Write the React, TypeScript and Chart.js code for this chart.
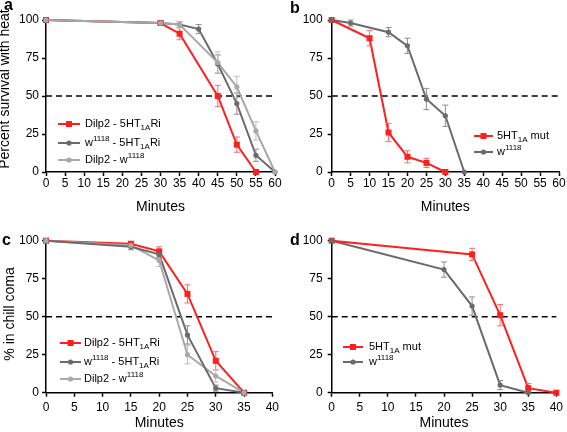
import React, { useEffect, useRef } from 'react';
import { Chart, registerables } from 'chart.js';
Chart.register(...registerables);

const FONT = "'Liberation Sans', Arial, sans-serif";
const RED = '#ff1f1f';
const RED_ERR = '#f27070';
const DARK = '#6b6b6b';
const DARK_ERR = '#8e8e8e';
const LIGHT = '#a9a9a9';
const LIGHT_ERR = '#bdbdbd';

// ---------- Panel a (heat) ----------
const aRedX = [0, 30, 35, 45, 50, 55];
const aRedY = [100, 98, 91, 50, 18, 0];
const aRedErr = [0, 1, 4, 7, 5, 0];
const aDarkX = [0, 30, 35, 40, 45, 50, 55, 60];
const aDarkY = [100, 98, 97, 94, 71, 45, 11, 0];
const aDarkErr = [0, 1, 2, 3, 6, 7, 4, 0];
const aLightX = [0, 30, 35, 45, 50, 55, 60];
const aLightY = [100, 98, 97, 72, 56, 27, 0];
const aLightErr = [0, 1, 2, 7, 7, 6, 0];

// ---------- Panel b (heat, mutant) ----------
const bRedX = [0, 10, 15, 20, 25, 30];
const bRedY = [100, 88, 26, 10, 6, 0];
const bRedErr = [0, 5, 6, 4, 3, 0];
const bDarkX = [0, 5, 15, 20, 25, 30, 35];
const bDarkY = [100, 98, 92, 83, 48, 37, 0];
const bDarkErr = [0, 2, 3, 5, 7, 7, 0];

// ---------- Panel c (chill) ----------
const cRedX = [0, 15, 20, 25, 30, 35];
const cRedY = [100, 98, 93, 65, 21, 0];
const cRedErr = [0, 1, 3, 6, 6, 0];
const cDarkX = [0, 15, 20, 25, 30, 35];
const cDarkY = [100, 96, 91, 38, 3, 0];
const cDarkErr = [0, 2, 2, 6, 2, 0];
const cLightX = [0, 15, 20, 25, 30, 35];
const cLightY = [100, 97, 87, 25, 11, 0];
const cLightErr = [0, 1, 4, 6, 4, 0];

// ---------- Panel d (chill, mutant) ----------
const dRedX = [0, 25, 30, 35, 40];
const dRedY = [100, 91, 51, 3, 0];
const dRedErr = [0, 4, 7, 3, 0];
const dDarkX = [0, 20, 25, 30, 35];
const dDarkY = [100, 81, 57, 5, 0];
const dDarkErr = [0, 5, 6, 3, 0];

// ---------- Labels ----------
type Part = { t: string; s?: 'sub' | 'sup' };
const labelDilpRi: Part[] = [{ t: 'Dilp2 - 5HT' }, { t: '1A', s: 'sub' }, { t: 'Ri' }];
const labelWRi: Part[] = [{ t: 'w' }, { t: '1118', s: 'sup' }, { t: ' - 5HT' }, { t: '1A', s: 'sub' }, { t: 'Ri' }];
const labelDilpW: Part[] = [{ t: 'Dilp2 - w' }, { t: '1118', s: 'sup' }];
const labelMut: Part[] = [{ t: '5HT' }, { t: '1A', s: 'sub' }, { t: ' mut' }];
const labelW: Part[] = [{ t: 'w' }, { t: '1118', s: 'sup' }];

const xTicksStep = 5;
const yTicksStep = 25;
const threshold = 50;

type Series = {
  x: number[]; y: number[]; err: number[];
  color: string; errColor: string; style: 'rect' | 'circle'; label: Part[]; order: number;
};

type Panel = {
  key: string; left: number; top: number; w: number; h: number; xMax: number;
  area: { left: number; right: number; top: number; bottom: number };
  yTitle?: string; yTitlePos?: { x: number; y: number };
  letterPos: { x: number; y: number };
  series: Series[];
  legend: { x0: number; x1: number; tx: number; ys: number[] };
  tickPadX: number; tickPadY: number; xTitlePad: number;
};

const panels: Panel[] = [
  {
    key: 'a', left: 0, top: 0, w: 283, h: 216, xMax: 60,
    area: { left: 46, right: 275, top: 20, bottom: 172 },
    yTitle: 'Percent survival with heat', yTitlePos: { x: 8.5, y: 89 },
    letterPos: { x: 4, y: 10 },
    series: [
      { x: aRedX, y: aRedY, err: aRedErr, color: RED, errColor: RED_ERR, style: 'rect', label: labelDilpRi, order: 3 },
      { x: aDarkX, y: aDarkY, err: aDarkErr, color: DARK, errColor: DARK_ERR, style: 'circle', label: labelWRi, order: 2 },
      { x: aLightX, y: aLightY, err: aLightErr, color: LIGHT, errColor: LIGHT_ERR, style: 'circle', label: labelDilpW, order: 1 },
    ],
    legend: { x0: 58, x1: 80, tx: 85, ys: [124, 143, 160] },
    tickPadX: 0, tickPadY: 3, xTitlePad: 0,
  },
  {
    key: 'b', left: 283, top: 0, w: 284, h: 216, xMax: 60,
    area: { left: 48.7, right: 276, top: 20, bottom: 172 },
    letterPos: { x: 7, y: 13 },
    series: [
      { x: bRedX, y: bRedY, err: bRedErr, color: RED, errColor: RED_ERR, style: 'rect', label: labelMut, order: 1 },
      { x: bDarkX, y: bDarkY, err: bDarkErr, color: DARK, errColor: DARK_ERR, style: 'circle', label: labelW, order: 2 },
    ],
    legend: { x0: 191, x1: 210, tx: 214, ys: [136, 152] },
    tickPadX: 0, tickPadY: 5, xTitlePad: 0,
  },
  {
    key: 'c', left: 0, top: 216, w: 283, h: 216, xMax: 40,
    area: { left: 46, right: 275, top: 24.7, bottom: 176.7 },
    yTitle: '% in chill coma', yTitlePos: { x: 13.5, y: 98 },
    letterPos: { x: 2, y: 29 },
    series: [
      { x: cRedX, y: cRedY, err: cRedErr, color: RED, errColor: RED_ERR, style: 'rect', label: labelDilpRi, order: 3 },
      { x: cDarkX, y: cDarkY, err: cDarkErr, color: DARK, errColor: DARK_ERR, style: 'circle', label: labelWRi, order: 1 },
      { x: cLightX, y: cLightY, err: cLightErr, color: LIGHT, errColor: LIGHT_ERR, style: 'circle', label: labelDilpW, order: 2 },
    ],
    legend: { x0: 60, x1: 81, tx: 84, ys: [127, 146, 163] },
    tickPadX: 4, tickPadY: 3, xTitlePad: 0,
  },
  {
    key: 'd', left: 283, top: 216, w: 284, h: 216, xMax: 40,
    area: { left: 48.7, right: 277, top: 24.7, bottom: 176.7 },
    letterPos: { x: 7, y: 29 },
    series: [
      { x: dRedX, y: dRedY, err: dRedErr, color: RED, errColor: RED_ERR, style: 'rect', label: labelMut, order: 1 },
      { x: dDarkX, y: dDarkY, err: dDarkErr, color: DARK, errColor: DARK_ERR, style: 'circle', label: labelW, order: 2 },
    ],
    legend: { x0: 60, x1: 80, tx: 86, ys: [131, 146] },
    tickPadX: 4, tickPadY: 5, xTitlePad: 0,
  },
];

function drawParts(ctx: CanvasRenderingContext2D, parts: Part[], x: number, y: number) {
  let cx = x;
  ctx.textBaseline = 'middle';
  ctx.textAlign = 'left';
  ctx.fillStyle = '#000';
  for (const p of parts) {
    if (p.s) {
      ctx.font = `8px ${FONT}`;
      const dy = p.s === 'sub' ? 3.5 : -4;
      ctx.fillText(p.t, cx, y + dy);
    } else {
      ctx.font = `11px ${FONT}`;
      ctx.fillText(p.t, cx, y);
    }
    cx += ctx.measureText(p.t).width;
  }
}

function drawMarker(ctx: CanvasRenderingContext2D, style: string, x: number, y: number, color: string) {
  ctx.fillStyle = color;
  if (style === 'rect') {
    ctx.fillRect(x - 3, y - 3, 6, 6);
  } else {
    ctx.beginPath();
    ctx.arc(x, y, 2.6, 0, Math.PI * 2);
    ctx.fill();
  }
}

const decorPlugin = {
  id: 'decor',
  afterDatasetsDraw(chart: any, _args: any, opts: any) {
    const ctx: CanvasRenderingContext2D = chart.ctx;
    const xs = chart.scales.x;
    const ys = chart.scales.y;
    chart.data.datasets.forEach((ds: any) => {
      if (!ds.errors) return;
      ctx.save();
      ctx.strokeStyle = ds.errColor;
      ctx.lineWidth = 1;
      ds.data.forEach((pt: any, j: number) => {
        const e = ds.errors[j];
        if (!e) return;
        const px = xs.getPixelForValue(pt.x);
        const yTop = ys.getPixelForValue(pt.y + e);
        const yBot = ys.getPixelForValue(Math.max(0, pt.y - e));
        ctx.beginPath();
        ctx.moveTo(px, yTop); ctx.lineTo(px, yBot);
        ctx.moveTo(px - 3, yTop); ctx.lineTo(px + 3, yTop);
        ctx.moveTo(px - 3, yBot); ctx.lineTo(px + 3, yBot);
        ctx.stroke();
      });
      ctx.restore();
    });
    chart.data.datasets.forEach((ds: any) => {
      if (!ds.errors) return;
      ds.data.forEach((pt: any) => {
        drawMarker(ctx, ds.pointStyle, xs.getPixelForValue(pt.x), ys.getPixelForValue(pt.y), ds.borderColor);
      });
    });
  },
  afterDraw(chart: any, _args: any, opts: any) {
    const ctx: CanvasRenderingContext2D = chart.ctx;
    ctx.save();
    ctx.font = `bold 16px ${FONT}`;
    ctx.fillStyle = '#000';
    ctx.textBaseline = 'alphabetic';
    ctx.textAlign = 'left';
    ctx.fillText(opts.letter, opts.letterPos.x, opts.letterPos.y);
    if (opts.yTitle) {
      ctx.save();
      ctx.translate(opts.yTitlePos.x, opts.yTitlePos.y);
      ctx.rotate(-Math.PI / 2);
      ctx.font = `14px ${FONT}`;
      ctx.textAlign = 'center';
      ctx.textBaseline = 'alphabetic';
      ctx.fillText(opts.yTitle, 0, 0);
      ctx.restore();
    }
    const lg = opts.legend;
    opts.items.forEach((it: any, i: number) => {
      const y = lg.ys[i];
      ctx.strokeStyle = it.color;
      ctx.lineWidth = 2;
      ctx.beginPath();
      ctx.moveTo(lg.x0, y); ctx.lineTo(lg.x1, y);
      ctx.stroke();
      drawMarker(ctx, it.style, (lg.x0 + lg.x1) / 2, y, it.color);
      drawParts(ctx, it.label, lg.tx, y);
    });
    ctx.restore();
  },
};

function PanelChart({ p }: { p: Panel }) {
  const ref = useRef<HTMLCanvasElement>(null);
  useEffect(() => {
    if (!ref.current) return;
    const datasets: any[] = p.series.map((s) => ({
      data: s.x.map((x, i) => ({ x, y: s.y[i] })),
      errors: s.err,
      errColor: s.errColor,
      borderColor: s.color,
      backgroundColor: s.color,
      pointStyle: s.style,
      pointRadius: 0,
      borderWidth: 2,
      tension: 0,
      clip: false,
      order: s.order,
    }));
    datasets.push({
      data: [{ x: 0, y: threshold }, { x: p.xMax, y: threshold }],
      borderColor: '#000',
      borderWidth: 1.5,
      borderDash: [6, 4],
      pointRadius: 0,
      order: 10,
      clip: false,
    });
    const tickFont = { family: FONT, size: 12 };
    const chart = new Chart(ref.current, {
      type: 'line',
      data: { datasets },
      plugins: [decorPlugin as any],
      options: {
        animation: false,
        responsive: false,
        events: [],
        layout: { padding: { left: 0, top: p.area.top, right: p.w - p.area.right, bottom: 0 } },
        plugins: {
          legend: { display: false },
          tooltip: { enabled: false },
          decor: {
            letter: p.key, letterPos: p.letterPos, yTitle: p.yTitle, yTitlePos: p.yTitlePos,
            legend: p.legend,
            items: p.series.map((s) => ({ color: s.color, style: s.style, label: s.label })),
          },
        } as any,
        scales: {
          x: {
            type: 'linear', min: 0, max: p.xMax,
            ticks: { stepSize: xTicksStep, color: '#000', font: tickFont, padding: p.tickPadX, maxRotation: 0, autoSkip: false },
            grid: { drawOnChartArea: false, drawTicks: true, tickLength: 4, tickColor: '#000', tickWidth: 1.5 },
            border: { color: '#000', width: 1.5 },
            title: { display: true, text: 'Minutes', color: '#000', font: { family: FONT, size: 14 }, padding: { top: 0, bottom: p.xTitlePad } },
            afterFit: (s: any) => { s.height = p.h - p.area.bottom; },
          },
          y: {
            type: 'linear', min: 0, max: 100,
            ticks: { stepSize: yTicksStep, color: '#000', font: tickFont, padding: p.tickPadY },
            grid: { drawOnChartArea: false, drawTicks: true, tickLength: 4, tickColor: '#000', tickWidth: 1.5 },
            border: { color: '#000', width: 1.5 },
            afterFit: (s: any) => { s.width = p.area.left; },
          },
        } as any,
      },
    });
    return () => chart.destroy();
  }, [p]);
  return (
    <canvas
      ref={ref}
      width={p.w}
      height={p.h}
      style={{ position: 'absolute', left: p.left, top: p.top, width: p.w, height: p.h }}
    />
  );
}

export default function App() {
  return (
    <div style={{ position: 'absolute', left: 0, top: 0, width: 567, height: 432, background: '#fff', overflow: 'hidden' }}>
      {panels.map((p) => (
        <PanelChart key={p.key} p={p} />
      ))}
    </div>
  );
}
